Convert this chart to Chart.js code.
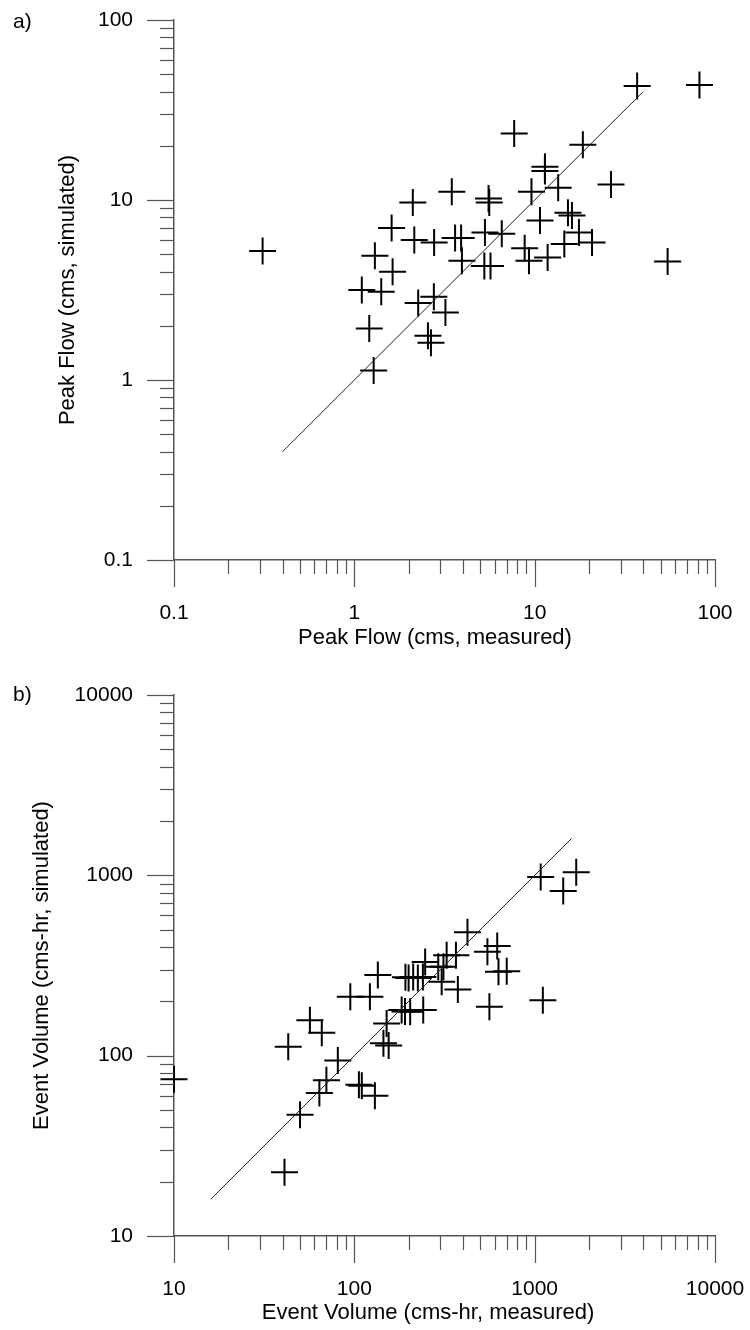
<!DOCTYPE html>
<html>
<head>
<meta charset="utf-8">
<script src="https://cdn.jsdelivr.net/npm/chart.js@4.4.1/dist/chart.umd.min.js"></script>
<style>
  body { margin: 0; background: #fff; }
  .panel { position: relative; width: 750px; height: 665px; }
</style>
</head>
<body>
<div class="panel"><canvas id="peakChart" width="750" height="665"></canvas></div>
<div class="panel"><canvas id="volumeChart" width="750" height="665"></canvas></div>
<script>
// a) peak flow, measured vs simulated (cms)
const peakMeasured = [0.31, 1.28, 1.21, 1.10, 1.41, 1.30, 1.63, 1.61, 2.11, 2.15, 2.77, 3.47, 3.62, 3.91, 3.95,
  5.3, 5.26, 5.69, 5.55, 5.6, 6.57, 2.26, 2.76, 3.2, 2.56, 2.66, 7.7, 9.6, 13.5, 11.4, 11.4, 18.5, 26.5,
  37, 82, 15.3, 16.1, 10.7, 8.8, 9.3, 11.8, 14.6, 17.6, 20.8, 54.6];
const peakSimulated = [5.2, 1.13, 1.93, 3.16, 3.09, 4.9, 4.0, 7.0, 9.7, 6.0, 5.8, 11.1, 6.15, 6.15, 4.6,
  6.6, 4.3, 4.3, 10.2, 9.7, 6.5, 2.68, 2.9, 2.37, 1.76, 1.61, 23.4, 11.1, 11.7, 15.3, 14.5, 20.3, 12.2,
  43, 43.5, 8.5, 8.2, 7.7, 5.4, 4.6, 4.8, 5.7, 6.6, 5.8, 4.55];
const peakLine = [0.4, 40];
const peakTicks = [0.1, 1, 10, 100];

// b) event volume, measured vs simulated (cms-hr)
const volMeasured = [10, 56.7, 66, 43, 81, 70, 64, 50, 41, 106, 110, 130, 151, 145, 155, 95, 122, 135,
  192, 200, 212, 225, 240, 183, 191, 204, 241, 247, 292, 312, 325, 366, 305, 375, 424, 547, 620,
  630, 700, 561, 1110, 1080, 1700, 1440];
const volSimulated = [74, 157, 134, 112, 94, 73, 62, 47, 22.6, 69, 68, 60, 151, 117, 114, 212, 212, 280,
  272, 270, 273, 270, 273, 179, 176, 175, 179, 331, 311, 311, 361, 360, 257, 233, 483, 377, 405,
  292, 294, 187, 203, 980, 1040, 820];
const volLine = [16, 1600];
const volTicks = [10, 100, 1000, 10000];

Chart.defaults.font.family = '"Liberation Sans", Arial, sans-serif';
Chart.defaults.color = '#000';

// long ticks at each decade, short ones in between, drawn outside the axes
const logTickMarks = {
  id: 'logTickMarks',
  afterDraw(chart) {
    const ctx = chart.ctx;
    ctx.save();
    ctx.strokeStyle = '#555';
    ctx.lineWidth = 1.2;
    ['x', 'y'].forEach(id => {
      const s = chart.scales[id];
      const lo = Math.round(Math.log10(s.min));
      const hi = Math.round(Math.log10(s.max));
      for (let e = lo; e <= hi; e++) {
        for (let m = 1; m <= 9; m++) {
          if (e === hi && m > 1) break;
          const v = m * Math.pow(10, e);
          const len = m === 1 ? 27 : 14;
          const p = Math.round(s.getPixelForValue(v)) + 0.5;
          ctx.beginPath();
          if (id === 'x') {
            ctx.moveTo(p, s.top);
            ctx.lineTo(p, s.top + len);
          } else {
            ctx.moveTo(s.right, p);
            ctx.lineTo(s.right - len, p);
          }
          ctx.stroke();
        }
      }
    });
    ctx.restore();
  }
};

// panel letter and x axis title
const panelText = {
  id: 'panelText',
  afterDraw(chart, args, opts) {
    const ctx = chart.ctx;
    ctx.save();
    ctx.fillStyle = '#000';
    ctx.textBaseline = 'middle';
    ctx.font = '21px "Liberation Sans", Arial, sans-serif';
    ctx.textAlign = 'left';
    ctx.fillText(opts.label, 13, opts.labelY);
    ctx.font = '22px "Liberation Sans", Arial, sans-serif';
    ctx.textAlign = 'center';
    ctx.fillText(opts.xTitle, opts.xTitleX, opts.xTitleY);
    ctx.restore();
  }
};

function makeChart(id, xs, ys, line, ticks, o) {
  const points = xs.map((x, i) => ({ x: x, y: ys[i] }));
  const axis = () => ({
    type: 'logarithmic',
    min: ticks[0],
    max: ticks[ticks.length - 1],
    afterBuildTicks: s => { s.ticks = ticks.map(v => ({ value: v })); },
    grid: { drawOnChartArea: false, drawTicks: false },
    border: { display: true, color: '#555', width: 1.5 },
    ticks: {
      autoSkip: false,
      maxRotation: 0,
      padding: 41,
      font: { size: 21 },
      callback: v => String(v)
    }
  });
  const xAxis = axis();
  xAxis.afterFit = s => {
    s.height = o.xHeight;
    s.paddingLeft = 0; s.paddingRight = 0;
  };
  const yAxis = axis();
  yAxis.title = { display: true, text: o.yTitle, font: { size: 22 }, padding: { top: o.yTitlePad, bottom: 0 } };
  yAxis.afterFit = s => {
    s.width = 174;
    s.paddingTop = 0; s.paddingBottom = 0;
  };

  return new Chart(document.getElementById(id), {
    type: 'scatter',
    data: {
      datasets: [
        {
          data: [{ x: line[0], y: line[0] }, { x: line[1], y: line[1] }],
          showLine: true,
          pointRadius: 0,
          borderColor: '#222',
          borderWidth: 1
        },
        {
          data: points,
          pointStyle: 'cross',
          pointRadius: 13.5,
          borderColor: '#000',
          borderWidth: 2,
          clip: false
        }
      ]
    },
    options: {
      responsive: false,
      animation: false,
      devicePixelRatio: 1,
      layout: { padding: { top: o.top, right: 35, bottom: 0, left: 0 } },
      scales: { x: xAxis, y: yAxis },
      plugins: {
        legend: { display: false },
        tooltip: { enabled: false },
        panelText: o
      }
    },
    plugins: [logTickMarks, panelText]
  });
}

makeChart('peakChart', peakMeasured, peakSimulated, peakLine, peakTicks, {
  label: 'a)', labelY: 22, top: 20, xHeight: 105, yTitlePad: 55,
  xTitle: 'Peak Flow (cms, measured)', xTitleX: 435, xTitleY: 638,
  yTitle: 'Peak Flow (cms, simulated)'
});

makeChart('volumeChart', volMeasured, volSimulated, volLine, volTicks, {
  label: 'b)', labelY: 30, top: 30, xHeight: 94, yTitlePad: 29,
  xTitle: 'Event Volume (cms-hr, measured)', xTitleX: 428, xTitleY: 648,
  yTitle: 'Event Volume (cms-hr, simulated)'
});
</script>
</body>
</html>
